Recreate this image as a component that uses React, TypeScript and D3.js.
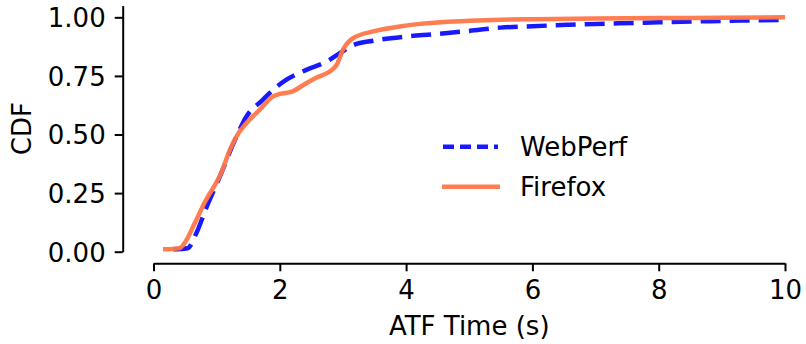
import React, { useEffect, useRef } from 'react';
import * as d3 from 'd3';

// CDF points
const webperfX = [0.31, 0.54, 0.68, 0.84, 1.05, 1.29, 1.47, 1.73, 1.89, 2.1, 2.42, 2.74, 2.95, 3.17, 3.48, 4.0, 4.44, 5.0, 5.49, 6.0, 6.55, 7.0, 7.6, 8.0, 8.67, 9.3, 10];
const webperfY = [0.01, 0.015, 0.08, 0.19, 0.32, 0.477, 0.576, 0.648, 0.69, 0.733, 0.776, 0.811, 0.847, 0.882, 0.9, 0.918, 0.928, 0.942, 0.956, 0.962, 0.968, 0.972, 0.976, 0.979, 0.983, 0.986, 0.989];

const firefoxX = [0.15, 0.41, 0.49, 0.65, 0.81, 1.07, 1.21, 1.31, 1.47, 1.68, 1.89, 2.0, 2.19, 2.42, 2.6, 2.79, 2.9, 3.0, 3.16, 3.48, 3.9, 4.22, 5.0, 5.5, 6, 7, 8, 9, 10];
const firefoxY = [0.01, 0.015, 0.036, 0.12, 0.21, 0.335, 0.434, 0.49, 0.548, 0.605, 0.662, 0.673, 0.683, 0.719, 0.745, 0.769, 0.797, 0.861, 0.911, 0.94, 0.961, 0.972, 0.985, 0.99, 0.992, 0.995, 0.997, 0.998, 1.0];

const xTicks = [0, 2, 4, 6, 8, 10];
const yTicks = [0, 0.25, 0.5, 0.75, 1.0];

const seriesNames = ['WebPerf', 'Firefox'];

const App = () => {
    const svgRef = useRef<SVGSVGElement>(null);

    useEffect(() => {
        const width = 806;
        const height = 344;
        const font = 'DejaVu Sans, sans-serif';
        const fontSize = '26px';

        const svg = d3.select(svgRef.current);
        svg.selectAll('*').remove();
        svg.attr('width', width).attr('height', height);

        const x = d3.scaleLinear().domain([0, 10]).range([153.5, 785]);
        const y = d3.scaleLinear().domain([0, 1.05]).range([251.7, 5.6]);

        // y axis (spine offset to the left, runs up to the top of the axes)
        const yAxis = svg.append('g')
            .attr('transform', 'translate(122.7,0)')
            .call(d3.axisLeft(y).tickValues(yTicks).tickFormat(d3.format('.2f')).tickSize(8).tickSizeOuter(0).tickPadding(9));

        // x axis (spine offset below the data)
        const xAxis = svg.append('g')
            .attr('transform', 'translate(0,263.3)')
            .call(d3.axisBottom(x).tickValues(xTicks).tickFormat(d3.format('d')).tickSize(8).tickSizeOuter(0).tickPadding(9));

        [yAxis, xAxis].forEach(g => {
            g.select('.domain').attr('stroke', '#000').attr('stroke-width', 2);
            g.selectAll('.tick line').attr('stroke', '#000').attr('stroke-width', 2);
            g.selectAll('.tick text')
                .attr('fill', '#000')
                .style('font-family', font)
                .style('font-size', fontSize);
        });
        yAxis.selectAll('.tick text').attr('dy', '0.36em');
        xAxis.selectAll('.tick text').attr('dy', '0.72em');

        // axis titles
        svg.append('text')
            .attr('x', (x(0) + x(10)) / 2)
            .attr('y', 335)
            .attr('text-anchor', 'middle')
            .style('font-family', font)
            .style('font-size', fontSize)
            .text('ATF Time (s)');

        svg.append('text')
            .attr('transform', `translate(31,${(y(0) + y(1.05)) / 2}) rotate(-90)`)
            .attr('text-anchor', 'middle')
            .style('font-family', font)
            .style('font-size', fontSize)
            .text('CDF');

        const line = d3.line<[number, number]>()
            .x(d => x(d[0]))
            .y(d => y(d[1]))
            .curve(d3.curveMonotoneX);

        const webperf = webperfX.map((v, i) => [v, webperfY[i]] as [number, number]);
        const firefox = firefoxX.map((v, i) => [v, firefoxY[i]] as [number, number]);

        svg.append('path')
            .datum(webperf)
            .attr('fill', 'none')
            .attr('stroke', '#0000ff')
            .attr('stroke-opacity', 0.9)
            .attr('stroke-width', 4.5)
            .attr('stroke-dasharray', '20,9')
            .attr('d', line);

        svg.append('path')
            .datum(firefox)
            .attr('fill', 'none')
            .attr('stroke', '#ff7648')
            .attr('stroke-opacity', 0.95)
            .attr('stroke-width', 4.5)
            .attr('d', line);

        // legend
        const legend = svg.append('g');
        legend.append('line')
            .attr('x1', 443).attr('x2', 498).attr('y1', 146.7).attr('y2', 146.7)
            .attr('stroke', '#0000ff').attr('stroke-opacity', 0.9)
            .attr('stroke-width', 4.5).attr('stroke-dasharray', '11,6');
        legend.append('line')
            .attr('x1', 442).attr('x2', 500).attr('y1', 186.7).attr('y2', 186.7)
            .attr('stroke', '#ff7648').attr('stroke-opacity', 0.95)
            .attr('stroke-width', 4.5);
        legend.selectAll('text.lbl')
            .data(seriesNames)
            .enter()
            .append('text')
            .attr('class', 'lbl')
            .attr('x', 520)
            .attr('y', (_, i) => 156 + i * 40)
            .style('font-family', font)
            .style('font-size', fontSize)
            .text(d => d);
    }, []);

    return (
        <svg ref={svgRef} style={{ position: 'absolute', left: 0, top: 0, display: 'block' }}></svg>
    );
};

export default App;
